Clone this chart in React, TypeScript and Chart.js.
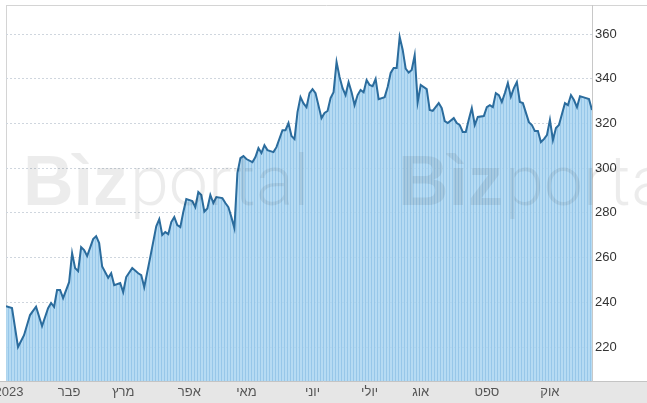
import React, { useEffect, useRef } from "react";
import { Chart, registerables } from "chart.js";

Chart.register(...registerables);

// trading-day index (from start of 2023) and closing values
const tradingDay = [
  0, 2, 4, 6, 8, 10, 12, 14, 15, 16, 17, 18, 19, 21, 22, 23, 24, 25, 26, 27, 29, 30, 31, 32, 34, 35, 36, 38, 39, 40,
  42, 44, 45, 46, 48, 50, 51, 52, 53, 54, 55, 56, 57, 58, 59, 60, 62, 63, 64, 65, 66, 67, 68, 69, 70, 72, 73, 74, 75, 76,
  77, 78, 79, 80, 82, 83, 84, 85, 86, 87, 89, 90, 92, 93, 94, 95, 96, 97, 98, 99, 100, 101, 102, 103, 105, 106, 107, 108, 109, 110,
  111, 112, 113, 114, 115, 116, 117, 118, 119, 120, 121, 122, 123, 124, 126, 127, 128, 129, 130, 131, 132, 133, 134, 135, 136, 137, 138, 140, 141, 142,
  144, 145, 146, 147, 149, 150, 151, 152, 153, 154, 155, 156, 157, 159, 160, 161, 162, 163, 164, 165, 166, 167, 168, 169, 170, 171, 172, 174, 175, 176,
  177, 178, 179, 180, 181, 182, 183, 184, 186, 187, 188, 189, 190, 191, 192, 194, 195,
];
const closePrice = [
  238.3, 237.4, 220, 225.3, 234.3, 238, 229.4, 237.4, 239.7, 238, 245.5, 245.5, 241.9, 249, 262, 255.3, 254, 264.7, 263.4, 260.7, 268.3, 269.6, 266.5, 256, 251, 253, 247.7, 248.6, 244.6, 251.3,
  255.3, 253, 252.2, 246.8, 260.2, 274, 277.2, 270.1, 271.4, 270.5, 275.9, 278.1, 274.5, 273.6, 280.4, 286.2, 285.3, 282.6, 289.3, 288, 280.6, 282, 288, 284.4, 287.1, 286.6, 284.4, 282.6, 278.1, 273.2,
  297.8, 304.5, 305.4, 304.1, 302.7, 305, 309, 306.8, 310.3, 308.1, 307.2, 309.4, 317, 317, 320.2, 314.4, 313, 325.1, 331.8, 329, 327.3, 333.6, 335.4, 333.6, 322.4, 324.7, 325.6, 331.4, 334, 347.5,
  340.8, 335.8, 332.7, 338.5, 334, 328.2, 332.7, 335, 334, 339.4, 337.2, 336.7, 339.9, 330.9, 331.8, 336.3, 342.6, 344.8, 344.8, 358.7, 353, 344.5, 342.8, 343.9, 350.6, 329.6, 337.2, 335.4, 326, 325.6,
  329.1, 326.9, 321.1, 320.2, 322.4, 320.2, 319.3, 316.2, 316.2, 321.8, 326.9, 319.3, 322.9, 323.3, 327.3, 328.2, 327.3, 333.6, 332.7, 329.6, 333.6, 338.1, 332, 335.8, 338.5, 329.6, 329.1, 320.6, 319.3, 316.6,
  316.6, 311.7, 313, 314.8, 321.6, 312.6, 318, 319.3, 329.1, 328.2, 332.7, 330.5, 327.3, 332.2, 331.8, 330.9, 326,
];

const monthTickDays = [1, 21, 39, 61, 80, 102, 121, 138, 160, 181];
const monthTickLabels = ["2023", "פבר", "מרץ", "אפר", "מאי", "יוני", "יולי", "אוג", "ספט", "אוק"];
const priceTicks = [220, 240, 260, 280, 300, 320, 340, 360];

const FONT = 'Arial, "Liberation Sans", sans-serif';

const decorPlugin = {
  id: "decor",
  beforeDraw(chart: any) {
    const { ctx, chartArea, width, height } = chart;
    ctx.save();
    ctx.fillStyle = "#e6e6e6";
    ctx.fillRect(0, chartArea.bottom, width, height - chartArea.bottom);
    ctx.strokeStyle = "#c4c4c4";
    ctx.lineWidth = 1;
    ctx.beginPath();
    ctx.moveTo(0, chartArea.bottom + 0.5);
    ctx.lineTo(width, chartArea.bottom + 0.5);
    ctx.stroke();
    ctx.strokeStyle = "#d4d4d4";
    ctx.beginPath();
    ctx.moveTo(chartArea.left, chartArea.top + 0.5);
    ctx.lineTo(width, chartArea.top + 0.5);
    ctx.moveTo(chartArea.left + 0.5, chartArea.top);
    ctx.lineTo(chartArea.left + 0.5, chartArea.bottom);
    ctx.stroke();
    ctx.restore();
  },
  afterDatasetsDraw(chart: any) {
    const { ctx } = chart;
    ctx.save();
    ctx.fillStyle = "rgba(0,0,0,0.075)";
    ctx.textBaseline = "alphabetic";
    const starts = [23, 398];
    for (const sx of starts) {
      ctx.font = "bold 70px " + FONT;
      ctx.fillText("Bìz", sx, 205);
      const w = ctx.measureText("Bìz").width;
      ctx.font = '300 70px Roboto, "Open Sans", ' + FONT;
      ctx.fillText("portal", sx + w + 2, 205);
    }
    ctx.restore();
  },
};

export default function App() {
  const ref = useRef<HTMLCanvasElement | null>(null);

  useEffect(() => {
    document.body.style.margin = "0";
    const canvas = ref.current!;
    const pc = document.createElement("canvas");
    pc.width = 3;
    pc.height = 1;
    const pctx = pc.getContext("2d")!;
    pctx.fillStyle = "rgba(170,213,241,0.86)";
    pctx.fillRect(0, 0, 3, 1);
    pctx.fillStyle = "rgba(146,196,232,0.86)";
    pctx.fillRect(2, 0, 1, 1);
    const pattern = canvas.getContext("2d")!.createPattern(pc, "repeat");

    const chart = new Chart(canvas, {
      type: "line",
      data: {
        datasets: [
          {
            data: tradingDay.map((d, i) => ({ x: d, y: closePrice[i] })),
            borderColor: "#2b6c9d",
            borderWidth: 2,
            backgroundColor: pattern as any,
            fill: "start",
            pointRadius: 0,
            tension: 0,
          },
        ],
      },
      options: {
        responsive: false,
        animation: false,
        layout: { autoPadding: false, padding: { top: 5, left: 6, right: 0, bottom: 0 } },
        plugins: { legend: { display: false }, tooltip: { enabled: false } },
        scales: {
          x: {
            type: "linear",
            min: 0,
            max: 195,
            grid: { display: false, drawTicks: false },
            border: { display: false },
            afterBuildTicks: (s: any) => {
              s.ticks = monthTickDays.map((v) => ({ value: v }));
            },
            afterFit: (s: any) => {
              s.height = 22;
              s.paddingLeft = 0;
              s.paddingRight = 0;
            },
            ticks: {
              autoSkip: false,
              maxRotation: 0,
              padding: 4,
              color: "#555",
              font: { family: FONT, size: 13 },
              callback: (v: any) => {
                const i = monthTickDays.indexOf(Number(v));
                return i >= 0 ? monthTickLabels[i] : "";
              },
            },
          },
          y: {
            position: "right",
            min: 204.8,
            max: 373,
            afterBuildTicks: (s: any) => {
              s.ticks = priceTicks.map((v) => ({ value: v }));
            },
            afterFit: (s: any) => {
              s.width = 55;
              s.paddingTop = 0;
              s.paddingBottom = 0;
            },
            grid: { color: "#cfd6de", drawTicks: false, lineWidth: 1 },
            border: { display: true, color: "#c8c8c8", dash: [2, 2] },
            ticks: {
              padding: 3,
              color: "#333",
              font: { family: FONT, size: 13 },
            },
          },
        },
      },
      plugins: [decorPlugin],
    });
    return () => chart.destroy();
  }, []);

  return (
    <div style={{ width: 647, height: 403 }}>
      <canvas ref={ref} width={647} height={403} style={{ display: "block" }} />
    </div>
  );
}
